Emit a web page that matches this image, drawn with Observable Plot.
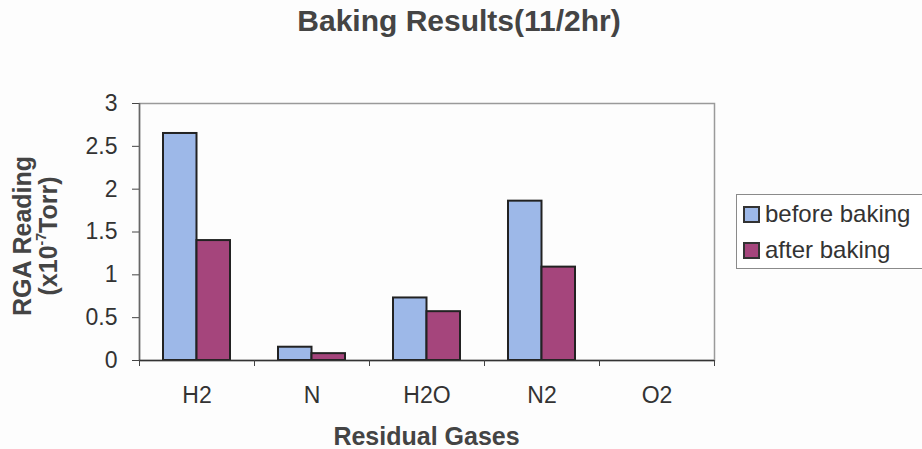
<!DOCTYPE html>
<html>
<head>
<meta charset="utf-8">
<script src="https://cdn.jsdelivr.net/npm/d3@7"></script>
<script src="https://cdn.jsdelivr.net/npm/@observablehq/plot@0.6"></script>
<style>
  html, body { margin: 0; padding: 0; background: #fdfdfd; }
  body { font-family: "Liberation Sans", Arial, sans-serif; color: #333; }
  #wrap { position: relative; width: 922px; height: 449px; overflow: hidden; }
  #title { position: absolute; left: 0; width: 918px; top: 5px; line-height: 32px; text-align: center;
           font-size: 30px; font-weight: bold; color: #444; }
  #chart { position: absolute; left: 0; top: 55px; }
  #xtitle { position: absolute; left: 139px; width: 575px; top: 425px; line-height: 22px; text-align: center;
            font-size: 25px; font-weight: bold; color: #444; }
  #ytitle { position: absolute; left: 35px; top: 236px; width: 280px; text-align: center;
            transform: translate(-50%, -50%) rotate(-90deg); font-size: 25px; font-weight: bold;
            line-height: 26px; color: #444; }
  #ytitle sup { font-size: 14px; line-height: 0; position: relative; top: -2px; }
  #legend { position: absolute; left: 736px; top: 194px; width: 200px; height: 75px; box-sizing: border-box;
            border: 1px solid #8a8a8a; background: #fff; }
  .item { position: absolute; left: 6px; height: 26px; display: flex; align-items: center; font-size: 24px; color: #333; white-space: nowrap; }
  .sw { width: 13px; height: 13px; border: 2px solid #333; margin-right: 5px; flex: none; }
</style>
</head>
<body>
<div id="wrap">
  <div id="title">Baking Results(11/2hr)</div>
  <div id="chart"></div>
  <div id="ytitle">RGA Reading<br>(x10<sup>-7</sup>Torr)</div>
  <div id="xtitle">Residual Gases</div>
  <div id="legend"></div>
</div>
<script>
const gases = ["H2", "N", "H2O", "N2", "O2"];
const before = [2.65, 0.155, 0.73, 1.86, 0];
const after = [1.40, 0.08, 0.57, 1.09, 0];
const seriesNames = ["before baking", "after baking"];
const seriesColors = ["#9db8e8", "#a5457c"];
const yTicks = [0, 0.5, 1, 1.5, 2, 2.5, 3];

const rows = gases.map((g, i) => ({gas: g, before: before[i], after: after[i]}));

const W = 922, H = 394;
const mL = 139, mR = 208, mT = 48, mB = 89;
const step = (W - mL - mR) / gases.length;
const barW = 33.5;
const half = step / 2;

const plot = Plot.plot({
  width: W, height: H,
  marginLeft: mL, marginRight: mR, marginTop: mT, marginBottom: mB,
  style: {fontFamily: "'Liberation Sans', Arial, sans-serif", background: "transparent", color: "#333"},
  x: {domain: gases, padding: 0, axis: null},
  y: {domain: [0, 3], axis: null},
  marks: [
    Plot.frame({stroke: "#9a9a9a", strokeWidth: 1.5}),
    Plot.barY(rows, {x: "gas", y: "before", fill: seriesColors[0], stroke: "#222", strokeWidth: 2,
                     insetLeft: half - barW, insetRight: half}),
    Plot.barY(rows, {x: "gas", y: "after", fill: seriesColors[1], stroke: "#222", strokeWidth: 2,
                     insetLeft: half, insetRight: half - barW}),
    Plot.axisY({ticks: yTicks, tickFormat: d => String(d), tickSize: 7, tickPadding: 15,
                fontSize: 23, label: null, stroke: "#444"}),
    Plot.ruleX([0], {x: () => gases[0], dx: -half, stroke: "#666", strokeWidth: 1.5}),
    Plot.ruleY([0], {stroke: "#333", strokeWidth: 1.5}),
    Plot.axisX({tickSize: 0, tickPadding: 26, fontSize: 23, label: null}),
    Plot.axisX({tickSize: 6, tickFormat: () => "", label: null, dx: -half, stroke: "#444"}),
    Plot.axisX({ticks: [gases[gases.length - 1]], tickSize: 6, tickFormat: () => "", label: null, dx: half, stroke: "#444"})
  ]
});
document.getElementById("chart").appendChild(plot);

const legend = document.getElementById("legend");
seriesNames.forEach((name, i) => {
  const item = document.createElement("div");
  item.className = "item";
  item.style.top = (i === 0 ? 6 : 42) + "px";
  const sw = document.createElement("div");
  sw.className = "sw";
  sw.style.background = seriesColors[i];
  item.appendChild(sw);
  item.appendChild(document.createTextNode(name));
  legend.appendChild(item);
});
</script>
</body>
</html>
